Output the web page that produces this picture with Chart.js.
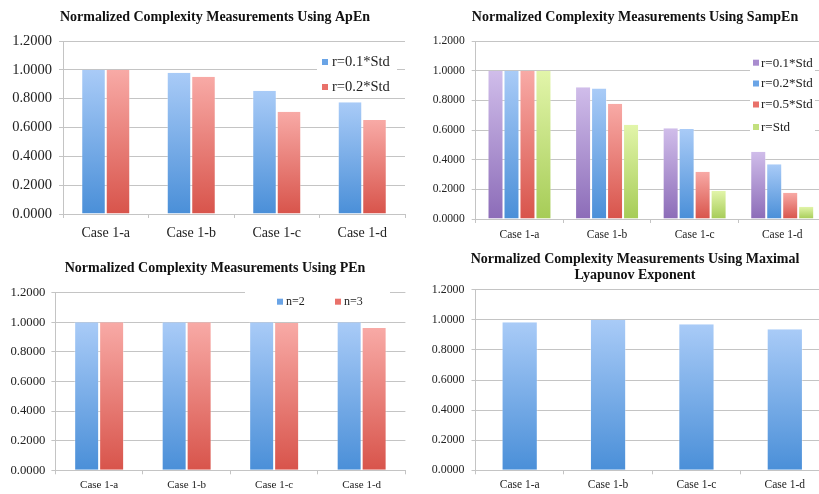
<!DOCTYPE html>
<html>
<head>
<meta charset="utf-8">
<script src="https://cdn.jsdelivr.net/npm/chart.js@4"></script>
<style>
  html, body { margin: 0; padding: 0; background: #fff; overflow: hidden; }
  body { width: 819px; height: 494px; position: relative; }
  .panel { position: absolute; }
  .panel canvas { display: block; }
</style>
</head>
<body>
<div class="panel" id="p1" style="left:0;top:0;width:430px;height:247px"><canvas id="c1"></canvas></div>
<div class="panel" id="p2" style="left:410px;top:0;width:450px;height:247px"><canvas id="c2"></canvas></div>
<div class="panel" id="p3" style="left:0;top:247px;width:430px;height:247px"><canvas id="c3"></canvas></div>
<div class="panel" id="p4" style="left:410px;top:247px;width:450px;height:247px"><canvas id="c4"></canvas></div>
<script>
// Shared categories and value axis
const categories = ['Case 1-a', 'Case 1-b', 'Case 1-c', 'Case 1-d'];
const yMin = 0;
const yMax = 1.2;
const yStep = 0.2;

// Approximate entropy, two tolerance settings
const apenR01 = [1.0000, 0.9800, 0.8550, 0.7750];
const apenR02 = [1.0000, 0.9520, 0.7100, 0.6520];

// Sample entropy, four tolerance settings
const sampR01 = [1.0000, 0.8880, 0.6110, 0.4540];
const sampR02 = [1.0000, 0.8790, 0.6070, 0.3690];
const sampR05 = [1.0000, 0.7770, 0.3190, 0.1770];
const sampRStd = [1.0000, 0.6360, 0.1910, 0.0830];

// Permutation entropy, two orders
const penN2 = [1.0000, 1.0000, 1.0000, 1.0000];
const penN3 = [1.0000, 1.0000, 0.9950, 0.9610];

// Maximal Lyapunov exponent
const lyapunov = [0.9830, 1.0000, 0.9700, 0.9370];

const SERIF = '"Liberation Serif", "Times New Roman", Times, serif';
const GRID = '#c4c4c4';

// Colour ramps: light at the top of each bar, deeper at its base
const ramps = {
  blue:   { top: '#a9cbf7', bottom: '#4a8fd8', key: '#6aa4e6' },
  red:    { top: '#f8aaa6', bottom: '#d8544b', key: '#e9716a' },
  purple: { top: '#d0bdea', bottom: '#8c6cb8', key: '#a98ccf' },
  green:  { top: '#e2f5aa', bottom: '#a6cc57', key: '#c3e07e' }
};

function barGradient(ramp) {
  return (ctx) => {
    const chart = ctx.chart;
    if (!chart.chartArea || ctx.raw == null) return ramp.bottom;
    const y = chart.scales.y;
    const yTop = y.getPixelForValue(ctx.raw);
    const yBase = y.getPixelForValue(0);
    if (!isFinite(yTop) || !isFinite(yBase) || yBase - yTop < 1) return ramp.bottom;
    const g = chart.ctx.createLinearGradient(0, yTop, 0, yBase);
    g.addColorStop(0, ramp.top);
    g.addColorStop(1, ramp.bottom);
    return g;
  };
}

function series(label, data, ramp) {
  return {
    label,
    data,
    backgroundColor: barGradient(ramp),
    borderColor: 'rgba(255,255,255,0.35)',
    borderWidth: { top: 0, left: 1, right: 1, bottom: 0 },
    legendColor: ramp.key,
    barPercentage: 1.0
  };
}

// Bold centred heading, one or two lines
const panelTitle = {
  id: 'panelTitle',
  afterDraw(chart, args, opts) {
    if (!opts || !opts.lines) return;
    const ctx = chart.ctx;
    ctx.save();
    ctx.font = 'bold 14px ' + SERIF;
    ctx.fillStyle = '#111';
    ctx.textAlign = 'center';
    ctx.textBaseline = 'middle';
    opts.lines.forEach((line, i) => {
      ctx.fillText(line, opts.cx, opts.cy + i * (opts.lineGap || 16));
    });
    ctx.restore();
  }
};

// Legend drawn inside the plot on a white card
const boxLegend = {
  id: 'boxLegend',
  afterDatasetsDraw(chart, args, opts) {
    if (!opts || !opts.box) return;
    const ctx = chart.ctx;
    ctx.save();
    const [bx, by, bw, bh] = opts.box;
    ctx.fillStyle = '#ffffff';
    ctx.fillRect(bx, by, bw, bh);
    ctx.font = opts.font;
    ctx.textBaseline = 'middle';
    ctx.textAlign = 'left';
    chart.data.datasets.forEach((ds, i) => {
      const [mx, my] = opts.items[i];
      ctx.fillStyle = ds.legendColor;
      ctx.fillRect(mx, my - 3, 6, 6);
      ctx.fillStyle = '#222';
      ctx.fillText(ds.label, mx + opts.gap, my + 0.5);
    });
    ctx.restore();
  }
};

function makeChart(id, cfg) {
  const el = document.getElementById(id);
  const box = el.parentElement;
  el.width = box.clientWidth;
  el.height = box.clientHeight;
  return new Chart(el, {
    type: 'bar',
    data: { labels: categories, datasets: cfg.datasets },
    plugins: [boxLegend, panelTitle],
    options: {
      responsive: false,
      animation: false,
      devicePixelRatio: 1,
      categoryPercentage: cfg.catPct,
      layout: { padding: { left: 0, right: cfg.padRight, top: cfg.padTop, bottom: 0 } },
      plugins: {
        legend: { display: false },
        tooltip: { enabled: false },
        title: { display: false },
        panelTitle: cfg.title,
        boxLegend: cfg.legend || {}
      },
      scales: {
        x: {
          afterFit: (s) => { s.height = cfg.xh; },
          grid: { display: true, drawOnChartArea: false, drawTicks: true, tickLength: 4, color: GRID, offset: true },
          border: { display: true, color: GRID, width: 1 },
          ticks: { color: '#222', font: { family: SERIF, size: cfg.xFont }, padding: cfg.xPad, maxRotation: 0 }
        },
        y: {
          min: yMin,
          max: yMax,
          afterFit: (s) => { s.width = cfg.yw; },
          grid: { color: GRID, lineWidth: 1, drawTicks: true, tickLength: 4 },
          border: { display: true, color: GRID, width: 1 },
          ticks: {
            stepSize: yStep,
            color: '#222',
            padding: cfg.yPad,
            font: { family: SERIF, size: cfg.yFont },
            callback: (v) => Number(v).toFixed(4)
          }
        }
      }
    }
  });
}

// ApEn
makeChart('c1', {
  title: { lines: ['Normalized Complexity Measurements Using ApEn'], cx: 215, cy: 17 },
  datasets: [
    series('r=0.1*Std', apenR01, ramps.blue),
    series('r=0.2*Std', apenR02, ramps.red)
  ],
  catPct: 0.573, padRight: 25, padTop: 41, yw: 63, xh: 33,
  yFont: 14.5, xFont: 14, yPad: 7, xPad: 7,
  legend: { box: [317, 45, 80, 50], items: [[322, 62], [322, 87]], gap: 10, font: '14.5px ' + SERIF }
});

// SampEn
makeChart('c2', {
  title: { lines: ['Normalized Complexity Measurements Using SampEn'], cx: 225, cy: 17 },
  datasets: [
    series('r=0.1*Std', sampR01, ramps.purple),
    series('r=0.2*Std', sampR02, ramps.blue),
    series('r=0.5*Std', sampR05, ramps.red),
    series('r=Std', sampRStd, ramps.green)
  ],
  catPct: 0.73, padRight: 34, padTop: 41, yw: 65.7, xh: 28,
  yFont: 11.6, xFont: 11.5, yPad: 7, xPad: 5,
  legend: { box: [340, 45, 65, 93], items: [[343, 62.7], [343, 83.5], [343, 104.5], [343, 127]], gap: 8, font: '13px ' + SERIF }
});

// PEn
makeChart('c3', {
  title: { lines: ['Normalized Complexity Measurements Using PEn'], cx: 215, cy: 21.7 },
  datasets: [
    series('n=2', penN2, ramps.blue),
    series('n=3', penN3, ramps.red)
  ],
  catPct: 0.571, padRight: 24.6, padTop: 45.7, yw: 55.4, xh: 23.7,
  yFont: 12.7, xFont: 11, yPad: 6, xPad: 4,
  legend: { box: [245, 40, 145, 23], items: [[277, 54.7], [335, 54.7]], gap: 9, font: '12px ' + SERIF }
});

// Maximal Lyapunov exponent
makeChart('c4', {
  title: { lines: ['Normalized Complexity Measurements Using Maximal', 'Lyapunov Exponent'], cx: 225, cy: 12.3, lineGap: 16 },
  datasets: [
    series('MLE', lyapunov, ramps.blue)
  ],
  catPct: 0.41, padRight: 31, padTop: 42.7, yw: 65.5, xh: 23.7,
  yFont: 11.9, xFont: 11.5, yPad: 7, xPad: 4
});
</script>
</body>
</html>
